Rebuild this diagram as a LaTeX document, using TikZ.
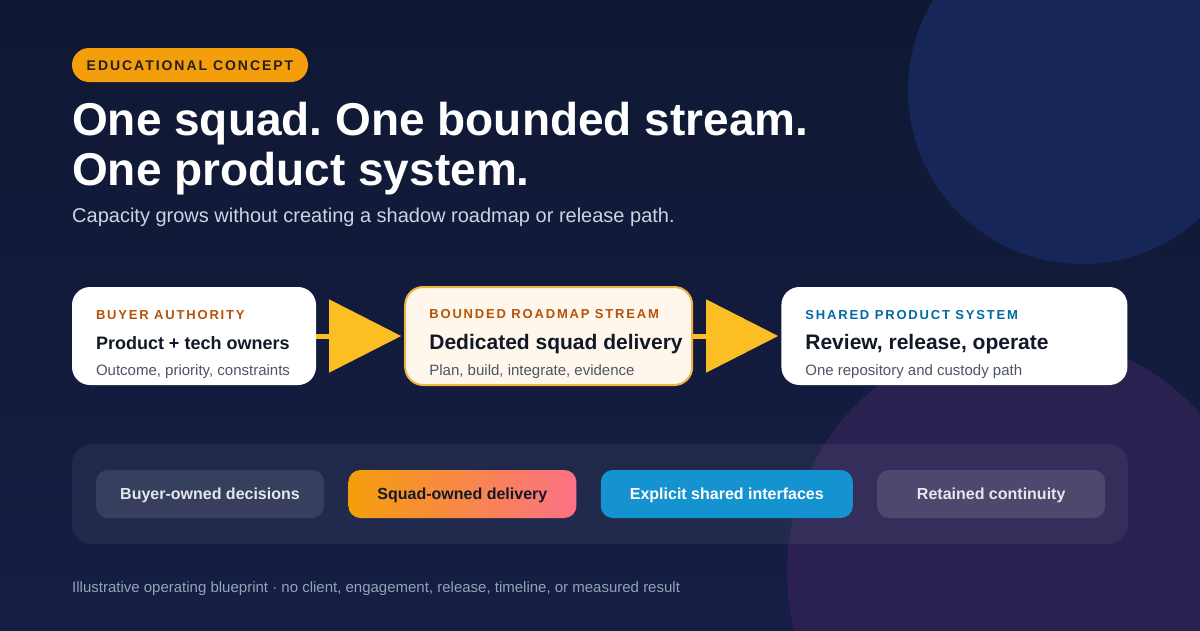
\documentclass[tikz,border=0pt]{standalone}
\usepackage{fontspec}
\setmainfont{Liberation Sans}
\newfontfamily\trackfont[LetterSpace=14]{Liberation Sans}
\usetikzlibrary{arrows.meta, positioning, shadings}
\frenchspacing

\definecolor{bgtop}{HTML}{0F1832}
\definecolor{bgbottom}{HTML}{161E45}
\definecolor{orb}{HTML}{172659}
\definecolor{plum}{HTML}{2A2150}
\definecolor{amber}{HTML}{F59E0B}
\definecolor{gold}{HTML}{FBBF24}
\definecolor{rose}{HTML}{FB7185}
\definecolor{sky}{HTML}{1592D0}
\definecolor{ink}{HTML}{111827}
\definecolor{slate}{HTML}{4B5563}
\definecolor{rust}{HTML}{B45309}
\definecolor{sea}{HTML}{0369A1}
\definecolor{cream}{HTML}{FFF7EB}
\definecolor{creamline}{HTML}{F2B441}
\definecolor{mist}{HTML}{CBD5E1}
\definecolor{fog}{HTML}{94A3B8}
\definecolor{chiptext}{HTML}{E5E7EB}
\definecolor{badgeink}{HTML}{241F1A}

\begin{document}
\begin{tikzpicture}[x=1pt, y=-1pt,
  card/.style={rectangle, rounded corners=18pt, fill=white, minimum width=#1, minimum height=98pt, inner sep=0pt},
  tag/.style={anchor=base west, inner sep=0pt, font=\trackfont\bfseries\fontsize{13}{15}\selectfont},
  head/.style={anchor=base west, inner sep=0pt, text=ink, font=\bfseries\fontsize{21}{25}\selectfont},
  note/.style={anchor=base west, inner sep=0pt, text=slate, font=\fontsize{15}{18}\selectfont},
  flow/.style={draw=gold, line width=5pt, shorten >=3pt, -{Triangle[length=72pt, width=72pt]}},
  chip/.style={rectangle, rounded corners=12pt, minimum width=#1, minimum height=48pt, inner sep=0pt,
    text height=11.5pt, text depth=0pt, font=\bfseries\fontsize{16}{19}\selectfont}
]

\useasboundingbox (0,0) rectangle (1200,630);

% background and the two orbs
\begin{scope}
\clip (0,0) rectangle (1200,630);
\shade[top color=bgtop, bottom color=bgbottom] (0,0) rectangle (1200,630);
\fill[orb] (1082,90) circle[radius=174pt];
\fill[plum] (1024,572) circle[radius=237pt];
\end{scope}

% heading
\node[rectangle, rounded corners=17pt, fill=amber, minimum width=236pt, minimum height=34pt, inner sep=0pt,
  text height=10pt, text depth=0pt, text=badgeink, font=\trackfont\bfseries\fontsize{14}{16}\selectfont]
  (badge) at (190,65) {EDUCATIONAL CONCEPT};

\node[anchor=base west, inner sep=0pt, text=white, font=\bfseries\fontsize{46}{50}\selectfont]
  (title1) at (72,135) {One squad. One bounded stream.};
\node[anchor=base west, inner sep=0pt, text=white, font=\bfseries\fontsize{46}{50}\selectfont]
  (title2) at (72,185) {One product system.};
\node[anchor=base west, inner sep=0pt, text=mist, font=\fontsize{20}{24}\selectfont]
  (subtitle) at (72,222) {Capacity grows without creating a shadow roadmap or release path.};

% the three cards
\node[card=244pt] (buyer) at (194,336) {};
\node[card=287pt, fill=cream, draw=creamline, line width=2pt, right=88pt of buyer] (stream) {};
\node[card=346pt, right=88pt of stream] (shared) {};

\node[tag, text=rust] (buyerTag) at ([xshift=24pt, yshift=-32.5pt]buyer.north west) {BUYER AUTHORITY};
\node[head, font=\bfseries\fontsize{18}{22}\selectfont] (buyerHead) at ([xshift=24pt, yshift=-63pt]buyer.north west) {Product + tech owners};
\node[note] (buyerNote) at ([xshift=24pt, yshift=-89pt]buyer.north west) {Outcome, priority, constraints};

\node[tag, text=rust] (streamTag) at ([xshift=25pt, yshift=-32.5pt]stream.north west) {BOUNDED ROADMAP STREAM};
\node[head] (streamHead) at ([xshift=25pt, yshift=-63pt]stream.north west) {Dedicated squad delivery};
\node[note] (streamNote) at ([xshift=25pt, yshift=-89pt]stream.north west) {Plan, build, integrate, evidence};

\node[tag, text=sea] (sharedTag) at ([xshift=24pt, yshift=-32.5pt]shared.north west) {SHARED PRODUCT SYSTEM};
\node[head] (sharedHead) at ([xshift=24pt, yshift=-63pt]shared.north west) {Review, release, operate};
\node[note] (sharedNote) at ([xshift=24pt, yshift=-89pt]shared.north west) {One repository and custody path};

\draw[flow] (buyer.east) -- (stream.west);
\draw[flow] (stream.east) -- (shared.west);

% ownership strip
\node[rectangle, rounded corners=20pt, fill=white, fill opacity=0.06, minimum width=1056pt, minimum height=100pt]
  (panel) at (600,494) {};

\node[chip=228pt, fill=white, fill opacity=0.1, text opacity=1, text=chiptext] (buyerChip) at (210,494) {Buyer-owned decisions};
\node[chip=228pt, left color=amber, right color=rose, text=ink, right=24pt of buyerChip] (squadChip) {Squad-owned delivery};
\node[chip=252pt, fill=sky, text=white, right=24pt of squadChip] (sharedChip) {Explicit shared interfaces};
\node[chip=228pt, fill=white, fill opacity=0.12, text opacity=1, text=chiptext, right=24pt of sharedChip] (keepChip) {Retained continuity};

% footnote
\node[anchor=base west, inner sep=0pt, text=fog, font=\fontsize{15}{18}\selectfont]
  (footnote) at (72,592.7) {Illustrative operating blueprint · no client, engagement, release, timeline, or measured result};

\end{tikzpicture}
\end{document}
